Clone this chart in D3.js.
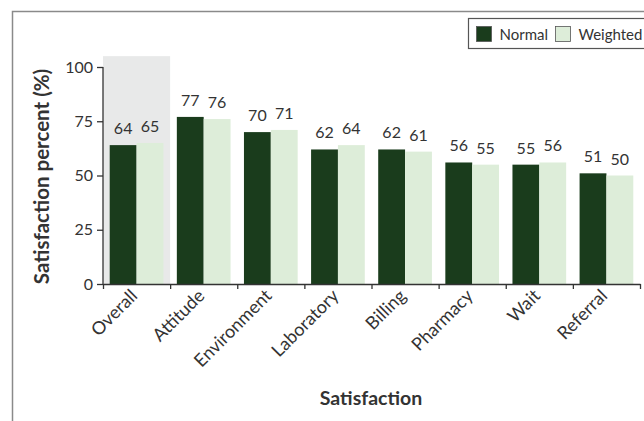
<!DOCTYPE html>
<html><head>
<meta charset="utf-8">
<script src="https://d3js.org/d3.v7.min.js"></script>
<style>
  body { margin: 0; background: white; }
  text { font-family: Lato, "Open Sans", sans-serif; fill: #333; }
  .axis path, .axis line { stroke: #333; stroke-width: 1.3; }
</style>
</head>
<body>
<div id="chart"></div>
<script>
// chart data
var categories = ["Overall", "Attitude", "Environment", "Laboratory", "Billing", "Pharmacy", "Wait", "Referral"];
var normal   = [64, 77, 70, 62, 62, 56, 55, 51];
var weighted = [65, 76, 71, 64, 61, 55, 56, 50];
var series = ["Normal", "Weighted"];
var yTicks = [0, 25, 50, 75, 100];

var W = 644, H = 421;
var colors = {"Normal": "#1a3c1c", "Weighted": "#ddedd9"};
var plot = {left: 103, right: 640, top: 67, bottom: 284};

var svg = d3.select("#chart").append("svg")
  .attr("width", W)
  .attr("height", H);

// outer frame (runs off the page on the right and bottom)
svg.append("rect")
  .attr("x", 12.5).attr("y", 11.5)
  .attr("width", 800).attr("height", 600)
  .style("fill", "none")
  .style("stroke", "#8a8a8a")
  .style("stroke-width", 1.5);

var x = d3.scaleBand()
  .domain(categories)
  .range([plot.left, plot.right])
  .paddingInner(0.2)
  .paddingOuter(0.1);

var xInner = d3.scaleBand()
  .domain(series)
  .range([0, x.bandwidth()]);

var y = d3.scaleLinear()
  .domain([0, 100])
  .range([plot.bottom, plot.top]);

var step = x.step();

// grey highlight behind "Overall"
svg.append("rect")
  .attr("x", x("Overall") - step * 0.1)
  .attr("y", y(105))
  .attr("width", step)
  .attr("height", y(0) - y(105))
  .style("fill", "#e8e9e9");

var rows = categories.map(function(c, i) {
  return {cat: c, vals: [{s: "Normal", v: normal[i]}, {s: "Weighted", v: weighted[i]}]};
});

var groups = svg.selectAll(".grp")
  .data(rows)
  .enter().append("g")
  .attr("class", "grp")
  .attr("transform", function(d) { return "translate(" + x(d.cat) + ",0)"; });

groups.selectAll("rect")
  .data(function(d) { return d.vals; })
  .enter().append("rect")
  .attr("x", function(d) { return xInner(d.s); })
  .attr("y", function(d) { return y(d.v); })
  .attr("width", xInner.bandwidth())
  .attr("height", function(d) { return y(0) - y(d.v); })
  .style("fill", function(d) { return colors[d.s]; });

groups.selectAll(".val")
  .data(function(d) { return d.vals; })
  .enter().append("text")
  .attr("class", "val")
  .attr("x", function(d) { return xInner(d.s) + xInner.bandwidth() / 2; })
  .attr("y", function(d) { return y(d.v) - 11; })
  .attr("text-anchor", "middle")
  .style("font-size", "16px")
  .text(function(d) { return d.v; });

// y axis
svg.append("g")
  .attr("class", "axis")
  .attr("transform", "translate(" + plot.left + ",0)")
  .call(d3.axisLeft(y).tickValues(yTicks).tickSize(6).tickSizeOuter(0).tickPadding(4))
  .call(function(g) {
    g.selectAll("text").style("font-size", "16px").style("fill", "#333").style("font-family", "Lato, sans-serif");
    g.select(".domain").attr("d", "M0," + y(100) + "V" + y(0));
  });

// x axis with ticks on band boundaries
var bounds = d3.scaleLinear().domain([0, categories.length]).range([plot.left, plot.right]);
svg.append("g")
  .attr("class", "axis")
  .attr("transform", "translate(0," + plot.bottom + ")")
  .call(d3.axisBottom(bounds).tickValues(d3.range(categories.length + 1)).tickFormat("").tickSize(5).tickSizeOuter(0));

svg.selectAll(".cat")
  .data(categories)
  .enter().append("text")
  .attr("class", "cat")
  .attr("text-anchor", "end")
  .attr("transform", function(d) {
    return "translate(" + (x(d) + x.bandwidth() / 2 + 2) + "," + (plot.bottom + 13) + ") rotate(-45)";
  })
  .style("font-size", "18px")
  .text(function(d) { return d; });

// axis titles
svg.append("text")
  .attr("transform", "translate(49," + ((plot.top + plot.bottom) / 2 + 1) + ") rotate(-90)")
  .attr("text-anchor", "middle")
  .style("font-size", "20.5px")
  .style("font-weight", "bold")
  .text("Satisfaction percent (%)");

svg.append("text")
  .attr("x", 371)
  .attr("y", 405)
  .attr("text-anchor", "middle")
  .style("font-size", "19.5px")
  .style("font-weight", "bold")
  .text("Satisfaction");

// legend
var legend = svg.append("g").attr("transform", "translate(468.5,18.5)");
legend.append("rect")
  .attr("width", 300).attr("height", 30)
  .style("fill", "white")
  .style("stroke", "#555")
  .style("stroke-width", 1.2);

var legendX = [8, 87];
series.forEach(function(s, i) {
  legend.append("rect")
    .attr("x", legendX[i]).attr("y", 8)
    .attr("width", 15).attr("height", 15)
    .style("fill", colors[s])
    .style("stroke", "#555")
    .style("stroke-width", 0.8);
  legend.append("text")
    .attr("x", legendX[i] + 23)
    .attr("y", 21)
    .style("font-size", "15px")
    .text(s);
});
</script>
</body></html>
